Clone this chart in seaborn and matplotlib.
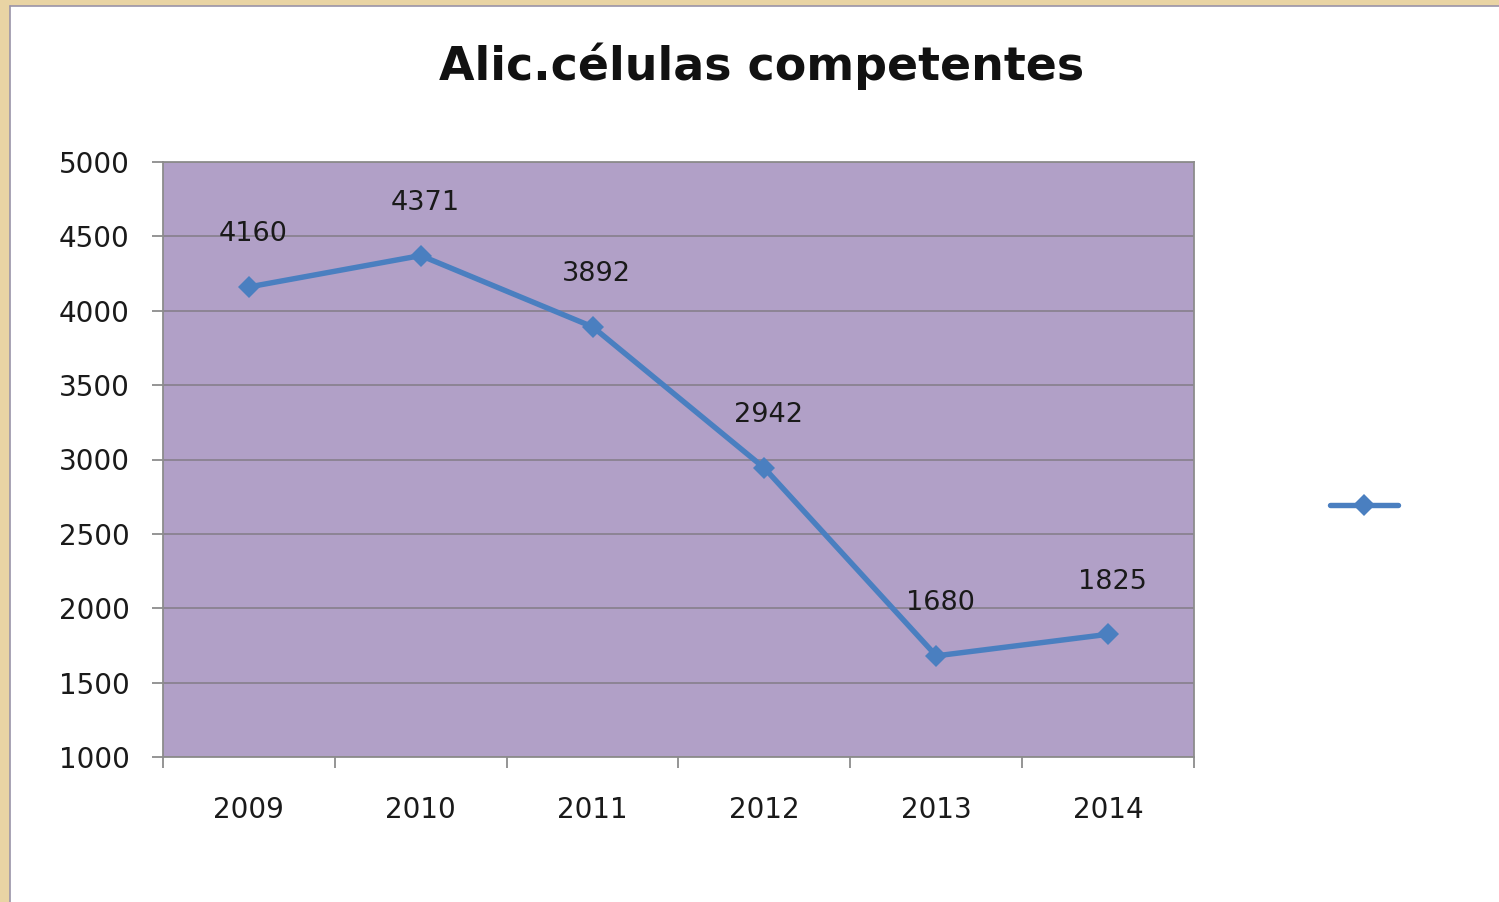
import matplotlib.pyplot as plt
import seaborn as sns
import pandas as pd
from matplotlib.patches import Rectangle
from matplotlib.ticker import FixedLocator, NullFormatter

years = [2009, 2010, 2011, 2012, 2013, 2014]
values = [4160, 4371, 3892, 2942, 1680, 1825]
y_ticks = [1000, 1500, 2000, 2500, 3000, 3500, 4000, 4500, 5000]

sns.set_style("white")
plt.rcParams['font.family'] = ['DejaVu Sans']

df = pd.DataFrame({"year": years, "value": values})

fig = plt.figure(figsize=(14.99, 9.02), dpi=100)
fig.patch.set_facecolor("white")

# slide border (tan frame on left and top)
fig.patches.append(Rectangle((0, 0), 10 / 1499, 1, transform=fig.transFigure,
                             facecolor="#e9d4a4", edgecolor="none", zorder=0))
fig.patches.append(Rectangle((0, 1 - 6 / 902), 1, 6 / 902, transform=fig.transFigure,
                             facecolor="#e9d4a4", edgecolor="none", zorder=0))
fig.add_artist(plt.Line2D([10 / 1499, 10 / 1499], [0, 1 - 6 / 902], transform=fig.transFigure,
                          color="#9a94a8", lw=1.2))
fig.add_artist(plt.Line2D([10 / 1499, 1], [1 - 6 / 902, 1 - 6 / 902], transform=fig.transFigure,
                          color="#9a94a8", lw=1.2))

ax = fig.add_axes([163 / 1499, 1 - 757 / 902, (1194 - 163) / 1499, (757 - 162) / 902])
ax.set_facecolor("#b1a0c7")

sns.lineplot(data=df, x="year", y="value", ax=ax, color="#4a7fc0", lw=3.9,
             marker="D", markersize=11, markeredgewidth=0, label=" ", zorder=3)

ax.set_xlim(years[0] - 0.5, years[-1] + 0.5)
ax.set_ylim(1000, 5000)
ax.set_yticks(y_ticks)
ax.set_yticklabels([str(v) for v in y_ticks])
ax.yaxis.grid(True, color="#8a8290", lw=1.3)
ax.set_axisbelow(True)

# tick marks between categories, labels at centres
ax.xaxis.set_major_locator(FixedLocator([y - 0.5 for y in years] + [years[-1] + 0.5]))
ax.xaxis.set_major_formatter(NullFormatter())
ax.xaxis.set_minor_locator(FixedLocator(years))
ax.set_xticklabels([str(y) for y in years], minor=True)
ax.tick_params(axis="x", which="major", length=8, width=1.3, color="#8c8c8c", direction="out", bottom=True)
ax.tick_params(axis="x", which="minor", length=0, pad=28, labelsize=20, labelcolor="#1a1a1a")
ax.tick_params(axis="y", length=8, width=1.3, color="#8c8c8c", direction="out", left=True,
               pad=16, labelsize=20, labelcolor="#1a1a1a")

for side in ["left", "bottom", "top", "right"]:
    ax.spines[side].set_color("#8c8c8c")
    ax.spines[side].set_linewidth(1.3)

ax.set_xlabel("")
ax.set_ylabel("")

for x, v in zip(years, values):
    ax.annotate(str(v), (x, v), xytext=(3, 38), textcoords="offset points",
                ha="center", va="center", fontsize=19.5, color="#1a1a1a")

leg = ax.legend(loc="center", bbox_to_anchor=(1368 / 1499, 1 - 507 / 902),
                bbox_transform=fig.transFigure, frameon=False, handlelength=2.6,
                handletextpad=0, fontsize=19)

fig.text(762 / 1499, 1 - 66 / 902, "Alic.células competentes", ha="center", va="center",
         fontsize=33, fontweight="bold", color="#111111")

fig.savefig("out.png", dpi=100)
